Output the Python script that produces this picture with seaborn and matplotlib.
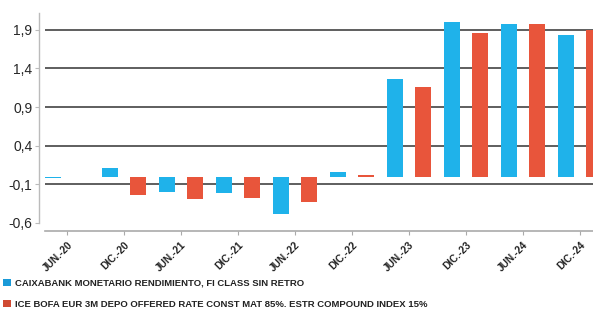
import numpy as np
import pandas as pd
import matplotlib
matplotlib.use("Agg")
import matplotlib.pyplot as plt
import seaborn as sns
from matplotlib.patches import Patch

categories = ["JUN.-20", "DIC.-20", "JUN.-21", "DIC.-21", "JUN.-22",
              "DIC.-22", "JUN.-23", "DIC.-23", "JUN.-24", "DIC.-24"]
fund_name = "CAIXABANK MONETARIO RENDIMIENTO, FI CLASS SIN RETRO"
bench_name = "ICE BOFA EUR 3M DEPO OFFERED RATE CONST MAT 85%. ESTR COMPOUND INDEX 15%"
fund_values = [-0.015, 0.11, -0.20, -0.21, -0.48, 0.06, 1.26, 2.00, 1.97, 1.83]
bench_values = [np.nan, -0.24, -0.29, -0.28, -0.33, 0.02, 1.16, 1.86, 1.98, 1.90]
yticks = [-0.6, -0.1, 0.4, 0.9, 1.4, 1.9]

blue = "#1fb2ea"
red = "#e8553b"

df = pd.DataFrame({
    "cat": categories * 2,
    "serie": [fund_name] * len(categories) + [bench_name] * len(categories),
    "val": fund_values + bench_values,
})

sns.set_style("white")
plt.rcParams['font.family'] = ['Liberation Sans', 'DejaVu Sans']

fig = plt.figure(figsize=(5.93, 3.09), dpi=100)
W, H = 593, 309
ax = fig.add_axes([45 / W, (H - 223) / H, 1 - 45 / W, (223 - 12.7) / H])

sns.barplot(data=df, x="cat", y="val", hue="serie", order=categories,
            hue_order=[fund_name, bench_name], palette=[blue, red],
            width=0.98, gap=0.42, dodge=True, ax=ax, legend=False,
            linewidth=0, saturation=1, zorder=3)

for y in yticks[1:]:
    ax.axhline(y, color="#333333", lw=1.1, zorder=1)

ax.set_ylim(-0.6, 2.12)
ax.set_xlim(-0.39, 9.23)
ax.set_yticks(yticks)
ax.set_yticklabels([f"{v:.1f}".replace(".", ",") for v in yticks], fontsize=7.5, color="#222222")
ax.set_xticks(range(len(categories)))
ax.set_xticklabels(categories)
ax.set_xlabel("")
ax.set_ylabel("")

for s in ["top", "right"]:
    ax.spines[s].set_visible(False)
ax.spines["left"].set_position(("outward", 4))
ax.spines["bottom"].set_position(("outward", 6))
ax.spines["left"].set_color("#bbbbbb")
ax.spines["bottom"].set_color("#aaaaaa")
ax.spines["left"].set_linewidth(1)
ax.spines["bottom"].set_linewidth(1.2)
ax.tick_params(axis="y", length=3, width=0.8, color="#bbbbbb", pad=2, left=True)
ax.tick_params(axis="x", length=3, width=0.8, color="#aaaaaa", pad=3, bottom=True,
               labelrotation=45)
for lbl in ax.get_xticklabels():
    lbl.set_rotation(45)
    lbl.set_ha("right")
    lbl.set_rotation_mode("anchor")
    lbl.set_fontsize(7.3)
    lbl.set_fontweight("bold")
    lbl.set_color("#222222")

handles = [Patch(facecolor="#1a9ad8", edgecolor="none", label=fund_name),
           Patch(facecolor="#d04a32", edgecolor="none", label=bench_name)]
leg = fig.legend(handles=handles, loc="lower left", bbox_to_anchor=(-0.005, -0.018),
                 frameon=False, fontsize=6.8, handlelength=0.85, handleheight=0.85,
                 handletextpad=0.5, labelspacing=1.3, borderaxespad=0.2)
for t in leg.get_texts():
    t.set_fontweight("bold")
    t.set_color("#222222")

fig.savefig("out.png", dpi=100)
